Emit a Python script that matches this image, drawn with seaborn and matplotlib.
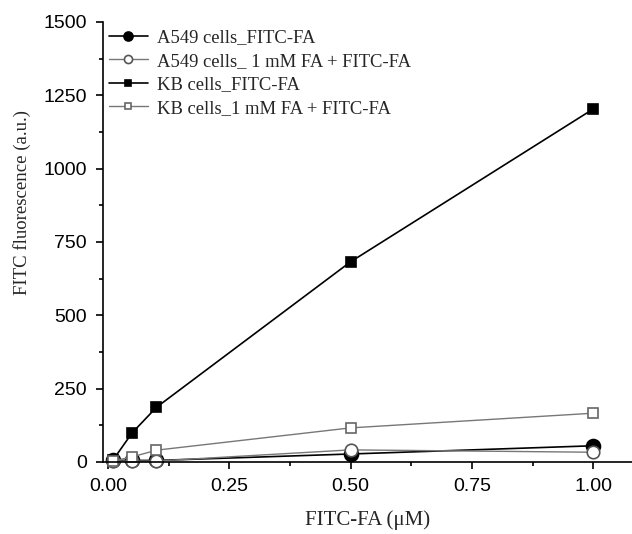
import numpy as np
import pandas as pd
import matplotlib
matplotlib.use("Agg")
import matplotlib.pyplot as plt
import seaborn as sns
from matplotlib.ticker import MultipleLocator, FormatStrFormatter

conc = [0.01, 0.05, 0.1, 0.5, 1.0]
a549_fa = [5, 5, 5, 27, 55]
a549_block = [3, 3, 3, 41, 33]
kb_fa = [5, 99, 186, 682, 1203]
kb_block = [3, 17, 40, 116, 166]

labels = ["A549 cells_FITC-FA", "A549 cells_ 1 mM FA + FITC-FA",
          "KB cells_FITC-FA", "KB cells_1 mM FA + FITC-FA"]

sns.set_theme(style="ticks")
plt.rcParams['font.family'] = ['Liberation Sans', 'DejaVu Sans']
serif = ['Liberation Serif', 'DejaVu Serif']

fig = plt.figure(figsize=(6.32, 5.34), dpi=100)
ax = fig.add_axes([0.163, 0.135, 0.837, 0.824])

styles = [
    (a549_fa, 'o', 'black', 'black', 'black', 10, 1.2),
    (a549_block, 'o', 'white', '#555555', '#777777', 9, 1.0),
    (kb_fa, 's', 'black', 'black', 'black', 7.5, 1.2),
    (kb_block, 's', 'white', '#666666', '#777777', 7.5, 1.0),
]
for (vals, mk, fc, ec, lc, ms, lw), lab in zip(styles, labels):
    df = pd.DataFrame({'x': conc, 'y': vals})
    sns.lineplot(data=df, x='x', y='y', ax=ax, marker=mk, color=lc,
                 markerfacecolor=fc, markeredgecolor=ec, markersize=ms,
                 markeredgewidth=1.2, linewidth=lw, label=lab, clip_on=False)

ax.set_xlim(-0.01, 1.08)
ax.set_ylim(0, 1500)
ax.xaxis.set_major_locator(MultipleLocator(0.25))
ax.xaxis.set_minor_locator(MultipleLocator(0.125))
ax.yaxis.set_major_locator(MultipleLocator(250))
ax.yaxis.set_minor_locator(MultipleLocator(125))
ax.xaxis.set_major_formatter(FormatStrFormatter('%.2f'))
ax.tick_params(which='major', direction='out', length=5, width=1.2, labelsize=14,
               pad=6.5, color='black', labelcolor='black')
ax.tick_params(which='minor', direction='out', length=3, width=1.2, color='black')
for s in ['top', 'right']:
    ax.spines[s].set_visible(False)
for s in ['left', 'bottom']:
    ax.spines[s].set_linewidth(1.2)
    ax.spines[s].set_color('black')

ax.set_xlabel('FITC-FA (μM)', family=serif, fontsize=15, labelpad=11)
ax.set_ylabel('FITC fluorescence (a.u.)', family=serif, fontsize=13.5)
ax.yaxis.set_label_coords(-0.136, 0.59)

leg = ax.legend(loc='upper left', bbox_to_anchor=(0.0, 0.996), frameon=False,
                prop={'family': serif, 'size': 13.4}, markerscale=0.65,
                handlelength=2.1, handletextpad=0.5, labelspacing=0.35,
                borderaxespad=0.0, borderpad=0.3)

fig.savefig('out.png', dpi=100)
